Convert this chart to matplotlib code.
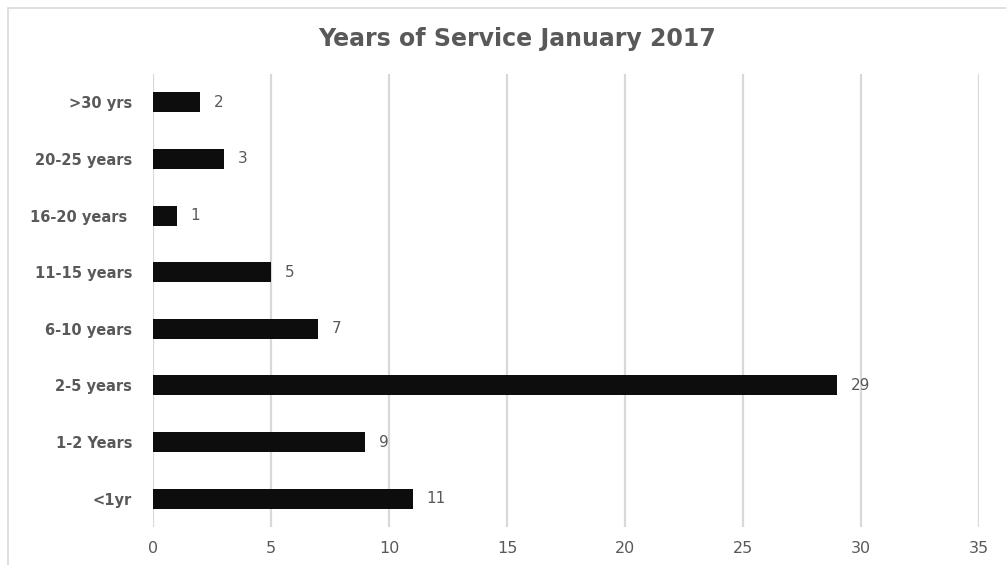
import matplotlib.pyplot as plt
from matplotlib.patches import Rectangle

plt.rcParams['font.family'] = ['DejaVu Sans']

# Data (bottom to top)
categories = ["<1yr", "1-2 Years", "2-5 years", "6-10 years", "11-15 years",
              "16-20 years ", "20-25 years", ">30 yrs"]
counts = [11, 9, 29, 7, 5, 1, 3, 2]
xticks = [0, 5, 10, 15, 20, 25, 30, 35]

grey = "#595959"
bar_color = "#0d0d0d"
grid_color = "#d9d9d9"

fig = plt.figure(figsize=(10.06, 5.65), dpi=100)
ax = fig.add_axes([153 / 1006, 1 - 527 / 565, (979 - 153) / 1006, (527 - 74) / 565])

# Chart border (runs off the right/bottom of the image)
fig.patches.append(Rectangle((8 / 1006, -0.1), 1.2, (565 - 8) / 565 + 0.1,
                             transform=fig.transFigure, fill=False,
                             edgecolor=grid_color, linewidth=1.2))

ypos = range(len(categories))
ax.barh(ypos, counts, height=0.353, color=bar_color, zorder=3)

for y, v in zip(ypos, counts):
    ax.annotate(str(v), (v, y), xytext=(10, 0), textcoords="offset points",
                va="center", ha="left", fontsize=11, color=grey)

ax.set_xlim(0, 35)
ax.set_ylim(-0.5, len(categories) - 0.5)
ax.set_xticks(xticks)
ax.set_xticklabels([str(t) for t in xticks], fontsize=11.5, color=grey)
ax.set_yticks(list(ypos))
ax.set_yticklabels(categories, fontsize=10.5, fontweight="bold", color=grey)

ax.grid(axis="x", color=grid_color, linewidth=1.6, zorder=0)
ax.tick_params(length=0)
ax.tick_params(axis="x", pad=10)
ax.tick_params(axis="y", pad=15)
for s in ax.spines.values():
    s.set_visible(False)

fig.text(517 / 1006, 1 - 39 / 565, "Years of Service January 2017",
         ha="center", va="center", fontsize=17, fontweight="bold", color=grey)

fig.savefig("out.png", dpi=100)
